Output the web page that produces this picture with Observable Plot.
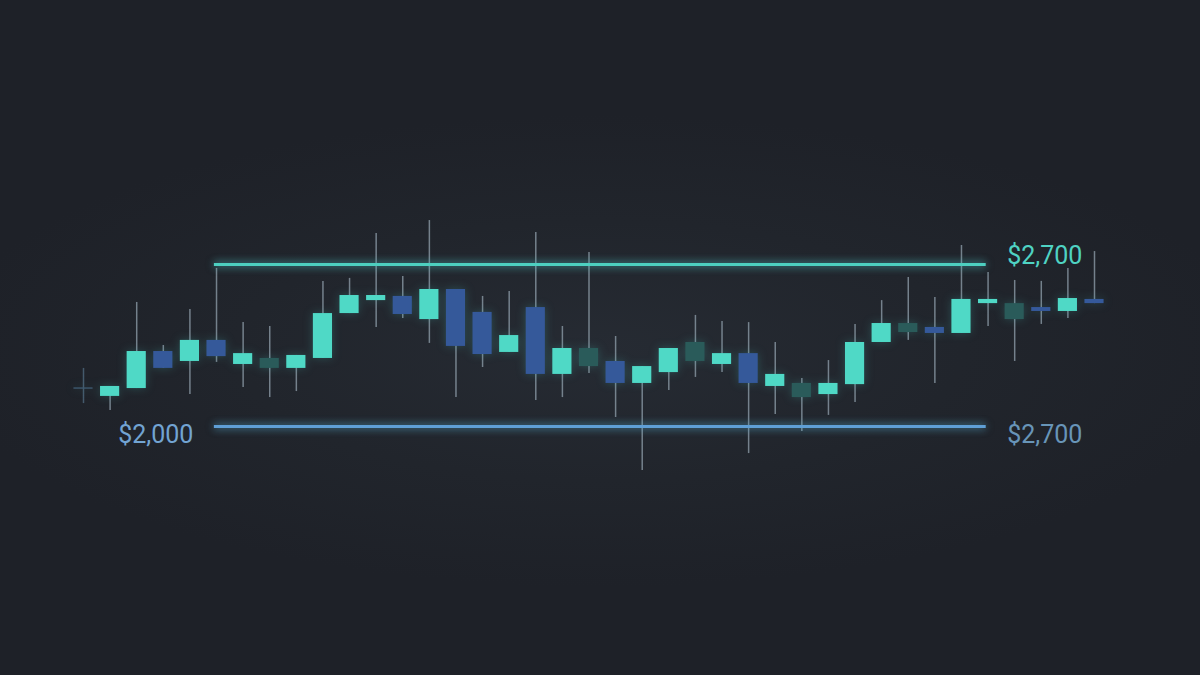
<!DOCTYPE html>
<html>
<head>
<meta charset="utf-8">
<script src="https://cdn.jsdelivr.net/npm/d3@7"></script>
<script src="https://cdn.jsdelivr.net/npm/@observablehq/plot@0.6"></script>
<style>
  html, body { margin: 0; padding: 0; }
  body {
    width: 1200px; height: 675px; overflow: hidden;
    background: radial-gradient(ellipse 55% 35% at 50% 52%, #262b33 0%, #21252c 55%, #1e2128 100%);
    font-family: Roboto, "Noto Sans", sans-serif;
  }
  #chart svg { display: block; }
</style>
</head>
<body>
<div id="chart"></div>
<script>
// Candle data (price values)
const opens  = [2167,2130,2164,2324,2281,2372,2268,2294,2251,2294,2488,2544,2562,2462,2592,2493,2320,2514,2225,2337,2281,2186,2233,2363,2268,2315,2173,2186,2138,2181,2363,2445,2428,2402,2531,2531,2514,2497,2549];
const closes = [2161,2173,2324,2251,2372,2302,2315,2251,2307,2488,2566,2566,2484,2592,2346,2311,2393,2225,2337,2259,2186,2259,2337,2281,2315,2186,2225,2125,2186,2363,2445,2406,2402,2549,2549,2462,2497,2553,2531];
const highs  = [2251,2173,2536,2350,2506,2683,2449,2432,2307,2627,2640,2834,2648,2890,2592,2562,2583,2838,2432,2752,2389,2259,2337,2480,2454,2449,2363,2207,2285,2441,2544,2644,2557,2782,2665,2631,2627,2683,2756];
const lows   = [2099,2069,2164,2251,2138,2277,2169,2125,2151,2294,2488,2428,2467,2359,2125,2255,2320,2112,2125,2229,2039,1810,2156,2212,2233,1883,2052,1978,2048,2104,2363,2372,2186,2402,2432,2281,2441,2467,2531];
const kinds  = ["doji","up","up","down","up","down","up","neutral","up","up","up","up","down","up","down","down","up","down","up","neutral","down","up","up","neutral","up","down","up","neutral","up","up","up","neutral","down","up","up","neutral","down","up","down"];

// Support / resistance levels
const levelNames  = ["resistance", "support"];
const levelPrices = [2700, 2000];
const levelStart  = 4.92;   // candle index where the level lines begin
const levelEnd    = 33.93;  // candle index where they end

// Level labels
const labelTexts  = ["$2,700", "$2,000", "$2,700"];
const labelPrices = [2700, 2000, 2000];
const labelIdx    = [34.72, 4.13, 34.72];
const labelSide   = ["right", "left", "right"];
const labelColors = ["#4fd3c3", "#72a4d2", "#6895b8"];

const kindDomain = ["up", "down", "neutral", "doji"];
const kindColors = ["#4fd9c6", "#35599a", "#2a5b5a", "#3e5a70"];

const candles = opens.map((o, i) => ({
  i, open: o, close: closes[i], high: highs[i], low: lows[i], kind: kinds[i]
}));
const levels = levelNames.map((n, k) => ({ name: n, price: levelPrices[k] }));
const labels = labelTexts.map((t, k) => ({ text: t, price: labelPrices[k], x: labelIdx[k], side: labelSide[k], color: labelColors[k] }));

const levelColor = { resistance: "#4dcfc0", support: "#5f9fd6" };

const half = 0.36;

const chart = Plot.plot({
  width: 1200,
  height: 675,
  margin: 0,
  style: { background: "transparent", overflow: "visible" },
  x: { type: "linear", domain: [0, 38], range: [83, 1094], axis: null },
  y: { type: "linear", domain: [2000, 2700], range: [426, 264], axis: null },
  color: { domain: kindDomain, range: kindColors },
  marks: [
    // wicks
    Plot.ruleX(candles, {
      x: "i", y1: "low", y2: "high",
      stroke: d => d.kind === "doji" ? "#4b6478" : "#84929e",
      strokeWidth: 1.5, strokeOpacity: 0.85
    }),
    // level glow
    Plot.ruleY(levels, {
      y: "price", x1: levelStart, x2: levelEnd,
      stroke: d => levelColor[d.name], strokeWidth: 10, strokeOpacity: 0.14
    }),
    // level lines
    Plot.ruleY(levels, {
      y: "price", x1: levelStart, x2: levelEnd,
      stroke: d => levelColor[d.name], strokeWidth: 2.8
    }),
    // bodies
    Plot.rect(candles, {
      x1: d => d.i - half, x2: d => d.i + half,
      y1: "open", y2: "close",
      fill: "kind"
    }),
    // labels: top-right
    Plot.text(labels.filter(d => d.side === "right" && d.price === 2700), {
      x: "x", y: "price", text: "text", textAnchor: "start", dy: -9,
      fill: d => d.color, fontSize: 25, fontFamily: "Roboto, sans-serif"
    }),
    // labels: bottom-right
    Plot.text(labels.filter(d => d.side === "right" && d.price === 2000), {
      x: "x", y: "price", text: "text", textAnchor: "start", dy: 8,
      fill: d => d.color, fontSize: 25, fontFamily: "Roboto, sans-serif"
    }),
    // labels: bottom-left
    Plot.text(labels.filter(d => d.side === "left"), {
      x: "x", y: "price", text: "text", textAnchor: "end", dy: 8,
      fill: d => d.color, fontSize: 25, fontFamily: "Roboto, sans-serif"
    })
  ]
});

document.getElementById("chart").appendChild(chart);

// soft glows
const svg = d3.select(chart);
const groups = svg.selectAll(":scope > g").nodes();
if (groups[1]) d3.select(groups[1]).style("filter", "blur(3px)");
if (groups[2]) d3.select(groups[2]).style("filter", "drop-shadow(0 0 4px rgba(90,200,220,0.55))");
if (groups[3]) d3.select(groups[3]).style("filter", "drop-shadow(0 0 5px rgba(70,200,190,0.25))");
</script>
</body>
</html>
